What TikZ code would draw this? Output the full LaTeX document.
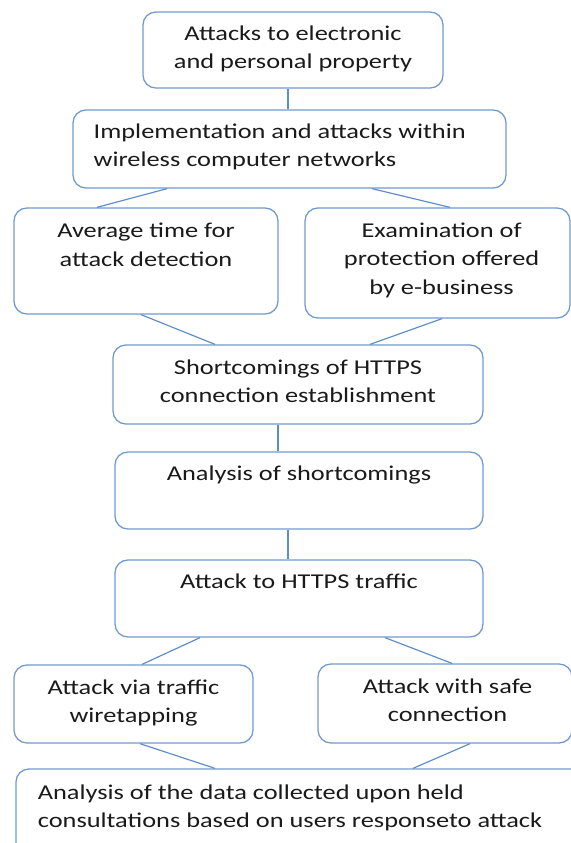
\documentclass[tikz,border=0pt]{standalone}
\usepackage{fontspec}
\setmainfont{Carlito}[FakeStretch=1.25]
\usetikzlibrary{positioning, fit}
\definecolor{c1}{HTML}{7099D0}
\definecolor{c2}{HTML}{5E8CC8}
\definecolor{textcolor}{HTML}{1A1A1A}

\begin{document}
\begin{tikzpicture}[
    x=0.03cm, y=-0.03cm,
    every node/.style={font=\fontsize{18}{24.3}\selectfont, text=textcolor},
    box/.style={rectangle, rounded corners=11pt, draw=c1, line width=1.1pt, inner sep=0pt},
    link/.style={draw=c2, line width=1.0pt},
    lbl/.style={align=center, anchor=north, inner sep=0pt},
    lbll/.style={align=left, anchor=north west, inner sep=0pt},
]
\clip (0,0) rectangle (571,843);

% ================================================================ boxes
\node[box, fit={(143,12) (443,88)}]   (b1) {};
\node[box, fit={(73,110) (506,188)}]  (b2) {};
\node[box, fit={(14,208) (278,314)}]  (b3) {};
\node[box, fit={(305,208) (570,318)}] (b4) {};
\node[box, fit={(113,345) (483,424)}] (b5) {};
\node[box, fit={(115,452) (483,529)}] (b6) {};
\node[box, fit={(115,560) (483,637)}] (b7) {};
\node[box, fit={(14,665) (253,743)}]  (b8) {};
\node[box, fit={(318,664) (572,743)}] (b9) {};
\node[box, fit={(16,769) (600,880)}]  (b10) {};

% ================================================================ texts
\node[lbl] (t1) at ([yshift=-12pt]b1.north) {Attacks to electronic\\and personal property};
\node[lbll] (t2) at ([xshift=18pt, yshift=-12pt]b2.north west)
    {Implementation and attacks within\\wireless computer networks};
\node[lbl] (t3) at ([yshift=-13.5pt]b3.north) {Average time for\\attack detection};
\node[lbl] (t4) at ([xshift=3.5pt, yshift=-13pt]b4.north) {Examination of\\protection offered\\by e-business};
\node[lbl] (t5) at ([yshift=-13pt]b5.north) {Shortcomings of HTTPS\\connection establishment};
\node[lbl] (t6) at ([yshift=-12pt]b6.north) {Analysis of shortcomings};
\node[lbl] (t7) at ([yshift=-12.5pt]b7.north) {Attack to HTTPS traffic};
\node[lbl] (t8) at ([yshift=-13pt]b8.north) {Attack via traffic\\wiretapping};
\node[lbl] (t9) at ([xshift=3pt, yshift=-13pt]b9.north west -| 444,0) {Attack with safe\\connection};
\node[lbll] (t10) at ([xshift=19pt, yshift=-13.5pt]b10.north west)
    {Analysis of the data collected upon held\\consultations based on users responseto attack};

% ================================================================ connectors
\draw[link] (b1.south -| 288,0) -- (b2.north -| 288,0);
\draw[link] (b2.south -| 167,0) -- (b3.north -| 97,0);
\draw[link] (b2.south -| 372,0) -- (b4.north -| 450,0);
\draw[link] (b3.south -| 141,0) -- (b5.north -| 215,0);
\draw[link] (b4.south -| 442,0) -- (b5.north -| 370,0);
\draw[link] (b5.south -| 278,0) -- (b6.north -| 278,0);
\draw[link] (b6.south -| 288,0) -- (b7.north -| 288,0);
\draw[link] (b7.south -| 200,0) -- (b8.north -| 142,0);
\draw[link] (b7.south -| 385,0) -- (b9.north -| 452,0);
\draw[link] (b8.south -| 140,0) -- (b10.north -| 215,0);
\draw[link] (b9.south -| 470,0) -- (b10.north -| 413,0);

\end{tikzpicture}
\end{document}
